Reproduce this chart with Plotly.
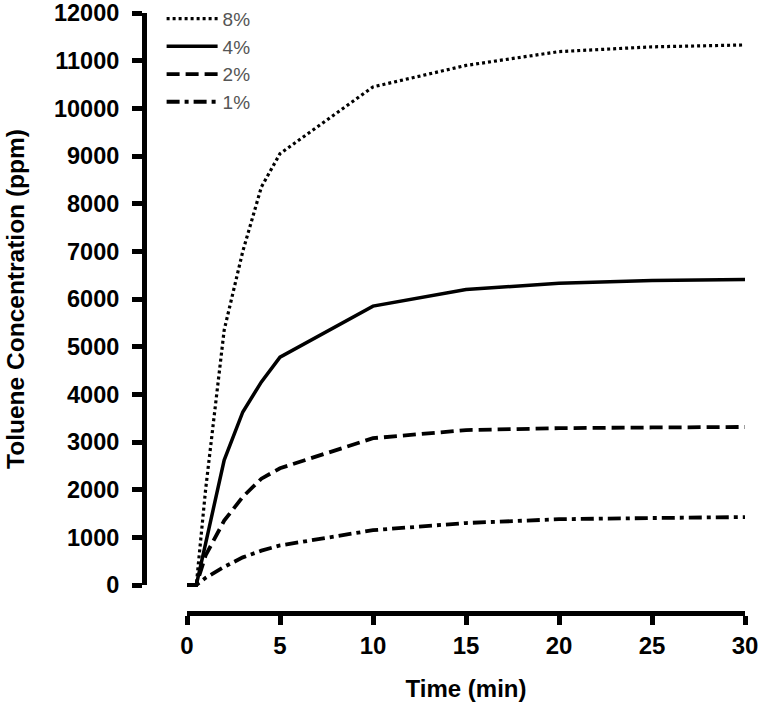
import plotly.graph_objects as go

# Data
time_min = [0, 0.5, 1, 2, 3, 4, 5, 10, 15, 20, 25, 30]
conc_8pct = [0, 0, 2000, 5350, 7000, 8350, 9050, 10450, 10900, 11190, 11290, 11330]
conc_4pct = [0, 0, 870, 2620, 3630, 4260, 4780, 5850, 6200, 6330, 6390, 6410]
conc_2pct = [0, 0, 620, 1350, 1850, 2230, 2450, 3080, 3250, 3290, 3305, 3315]
conc_1pct = [0, 0, 150, 380, 580, 720, 830, 1150, 1300, 1380, 1405, 1425]

series_names = ["8%", "4%", "2%", "1%"]
series_values = [conc_8pct, conc_4pct, conc_2pct, conc_1pct]
series_dash = ["3px,3px", "solid", "13px,6px", "13px,5px,4px,5px"]
series_width = [3.2, 3.5, 3.8, 3.8]

x_ticks = [0, 5, 10, 15, 20, 25, 30]
y_ticks = list(range(0, 12001, 1000))

W, H = 760, 706
L, R, T, B = 144, 15, 13, 93
plot_w = W - L - R
plot_h = H - T - B
x0_px = 43      # offset of x=0 from plot left
y0_px = 28      # offset of y=0 from plot bottom

x_min = -x0_px * 30 / (plot_w - x0_px)
y_min = -y0_px * 12000 / (plot_h - y0_px)

FONT = "Liberation Sans"

fig = go.Figure()
for name, vals, dash, w in zip(series_names, series_values, series_dash, series_width):
    fig.add_trace(go.Scatter(
        x=time_min, y=vals, name=name, mode="lines",
        line=dict(color="black", width=w, dash=dash),
        xaxis="x", yaxis="y",
    ))

# empty trace so the visible (detached) axes get drawn
fig.add_trace(go.Scatter(x=[None], y=[None], xaxis="x2", yaxis="y2",
                         showlegend=False, hoverinfo="skip", mode="lines"))

fig.update_layout(
    width=W, height=H,
    margin=dict(l=L, r=R, t=T, b=B, autoexpand=False),
    paper_bgcolor="white",
    plot_bgcolor="rgba(0,0,0,0)",
    showlegend=True,
    legend=dict(
        x=0.0293, y=1.022, xanchor="left", yanchor="top",
        font=dict(family=FONT, size=19, color="#555555"),
        bgcolor="rgba(0,0,0,0)",
        itemwidth=51,
        tracegroupgap=0,
    ),
    xaxis=dict(domain=[0, 1], range=[x_min, 30], visible=False, showgrid=False,
               zeroline=False, automargin=False),
    yaxis=dict(domain=[0, 1], range=[y_min, 12000], visible=False, showgrid=False,
               zeroline=False, automargin=False),
    xaxis2=dict(
        domain=[x0_px / plot_w, 1], range=[0, 30], anchor="free", position=0,
        tickvals=x_ticks, ticktext=[str(v) for v in x_ticks],
        ticks="outside", ticklen=9, tickwidth=5, tickcolor="black",
        showline=True, linewidth=5, linecolor="black", showgrid=False, zeroline=False,
        automargin=False, ticklabeloverflow="allow",
        tickfont=dict(family=FONT, size=24, color="black", weight="bold"),
        title=dict(text="Time (min)", font=dict(family=FONT, size=24, color="black", weight="bold"),
                   standoff=22),
    ),
    yaxis2=dict(
        domain=[y0_px / plot_h, 1], range=[0, 12000], anchor="free", position=0,
        tickvals=y_ticks, ticktext=[str(v) for v in y_ticks],
        ticks="outside", ticklen=10, tickwidth=5, tickcolor="black",
        showline=True, linewidth=5, linecolor="black", showgrid=False, zeroline=False,
        automargin=False, ticklabeloverflow="allow",
        tickfont=dict(family=FONT, size=23.5, color="black", weight="bold"),
        ticklabelstandoff=8,
        title=dict(text="Toluene Concentration (ppm)",
                   font=dict(family=FONT, size=24.5, color="black", weight="bold"),
                   standoff=21),
    ),
)

fig.write_html("out.html", config={"displayModeBar": False},
               post_script="document.body.style.margin='0';")
